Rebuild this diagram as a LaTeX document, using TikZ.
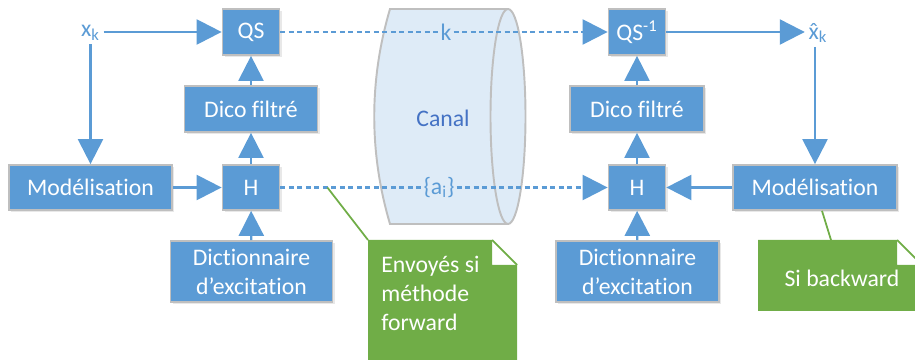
\documentclass[tikz,border=0pt]{standalone}
\usepackage{fontspec}
\setmainfont{Carlito}[Ligatures=NoCommon]
\usetikzlibrary{
    arrows.meta,
    shadows
}
\definecolor{bleu}{HTML}{5B9BD5}
\definecolor{bleufonce}{HTML}{4472C4}
\definecolor{bleuclair}{HTML}{DEEBF7}
\definecolor{vert}{HTML}{70AD47}
\definecolor{gris}{HTML}{BFBFBF}
\tikzset{blk/.style={draw=gris, line width=1pt, fill=bleu, text=white, inner sep=0pt, align=center,
        drop shadow={opacity=0.18, shadow xshift=0.04cm, shadow yshift=-0.05cm}}}
\tikzset{lbl/.style={text=bleu, inner sep=2pt}}
\tikzset{arr/.style={draw=bleu, line width=1.3pt, -{Triangle[length=0.5cm 0 0, width=0.5cm 0 0]}}}
\tikzset{darr/.style={arr, dash pattern=on 0.1cm off 0.07cm}}
\tikzset{dl/.style={draw=bleu, line width=1.3pt, dash pattern=on 0.1cm off 0.07cm}}
\tikzset{callout/.style={draw=vert, line width=1pt}}

\begin{document}
\begin{tikzpicture}[font=\fontsize{13.5}{16.5}\selectfont]
    \useasboundingbox (0, 0) rectangle (18.3, -7.2);
    % canal
    \path[fill=bleuclair, draw=gris, line width=1.1pt] (7.8, -0.18) -- (10.16, -0.18)
        arc[start angle=90, end angle=-90, x radius=0.35, y radius=2.15] -- (7.8, -4.48)
        .. controls (7.38, -3.06) and (7.38, -1.6) .. cycle;
    \draw[gris, line width=1.1pt] (10.16, -0.18) arc[start angle=90, end angle=270, x radius=0.35, y radius=2.15];
    \node[text=bleufonce] (canal) at (8.86, -2.36) {Canal};

    % emetteur
    \node[lbl] (xk) at (1.81, -0.66) {x\textsubscript{k}};
    \node[blk, minimum width=1.14cm, minimum height=0.92cm] (QS) at (5.02, -0.64) {QS};
    \node[blk, minimum width=2.66cm, minimum height=0.92cm] (dicoA) at (5.02, -2.18) {Dico filtré};
    \node[blk, minimum width=3.26cm, minimum height=0.9cm] (modA) at (1.81, -3.75) {Modélisation};
    \node[blk, minimum width=1.14cm, minimum height=0.9cm] (HA) at (5.02, -3.75) {H};
    \node[blk, minimum width=3.24cm, minimum height=1.22cm] (dictA) at (5.03, -5.43) {Dictionnaire\\d’excitation};

    % recepteur
    \node[blk, minimum width=1.14cm, minimum height=0.92cm] (QSi) at (12.74, -0.64) {QS\textsuperscript{-1}};
    \node[blk, minimum width=2.68cm, minimum height=0.92cm] (dicoB) at (12.74, -2.18) {Dico filtré};
    \node[blk, minimum width=1.14cm, minimum height=0.9cm] (HB) at (12.74, -3.75) {H};
    \node[blk, minimum width=3.28cm, minimum height=0.9cm] (modB) at (16.3, -3.75) {Modélisation};
    \node[blk, minimum width=3.26cm, minimum height=1.22cm] (dictB) at (12.75, -5.43) {Dictionnaire\\d’excitation};
    \node[lbl] (xhk) at (16.36, -0.66) {\accent"02C6 x\textsubscript{k}};

    % labels sur le canal
    \node[lbl, inner sep=1pt] (k) at (8.92, -0.64) {k};
    \node[lbl, inner sep=1pt] (ai) at (8.78, -3.75) {\{a\textsubscript{i}\}};

    % fleches
    \draw[arr] (xk.east |- QS) -- (QS);
    \draw[arr] (xk.south -| modA.north) -- (modA);
    \draw[arr] (modA) -- (HA);
    \draw[arr] (HA) -- (dicoA);
    \draw[arr] (dicoA) -- (QS);
    \draw[arr] (dictA) -- (HA);
    \draw[dl] (QS) -- (k);
    \draw[darr] (k) -- (QSi);
    \draw[dl] (HA) -- (ai);
    \draw[darr] (ai) -- (HB);
    \draw[arr] (QSi) -- (xhk.west |- QSi);
    \draw[arr] (xhk.south -| modB.north) -- (modB);
    \draw[arr] (modB) -- (HB);
    \draw[arr] (HB) -- (dicoB);
    \draw[arr] (dicoB) -- (QSi);
    \draw[arr] (dictB) -- (HB);

    % notes
    \coordinate (noteA) at (7.36, -4.8);
    \fill[vert] (noteA) -- (9.84, -4.8) -- (9.84, -5.3) -- (10.34, -5.3) -- (10.34, -7.3) -- (7.36, -7.3) -- cycle;
    \draw[callout] (9.84, -4.8) -- (10.34, -5.3);
    \node[text=white, align=left, anchor=north west, inner sep=0pt] (noteAtxt) at (7.62, -5.12) {Envoyés si\\méthode\\forward};
    \draw[callout] ([xshift=0.94cm]HA.east) -- (noteA);

    \coordinate (noteB) at (16.62, -4.8);
    \fill[vert] (15.16, -4.8) -- (17.94, -4.8) -- (17.94, -5.3) -- (18.5, -5.3) -- (18.5, -6.22) -- (15.16, -6.22) -- cycle;
    \draw[callout] (17.94, -4.8) -- (18.44, -5.3);
    \node[text=white] (noteBtxt) at (16.84, -5.56) {Si backward};
    \draw[callout] ([xshift=0.14cm]modB.south) -- (noteB);
\end{tikzpicture}
\end{document}
